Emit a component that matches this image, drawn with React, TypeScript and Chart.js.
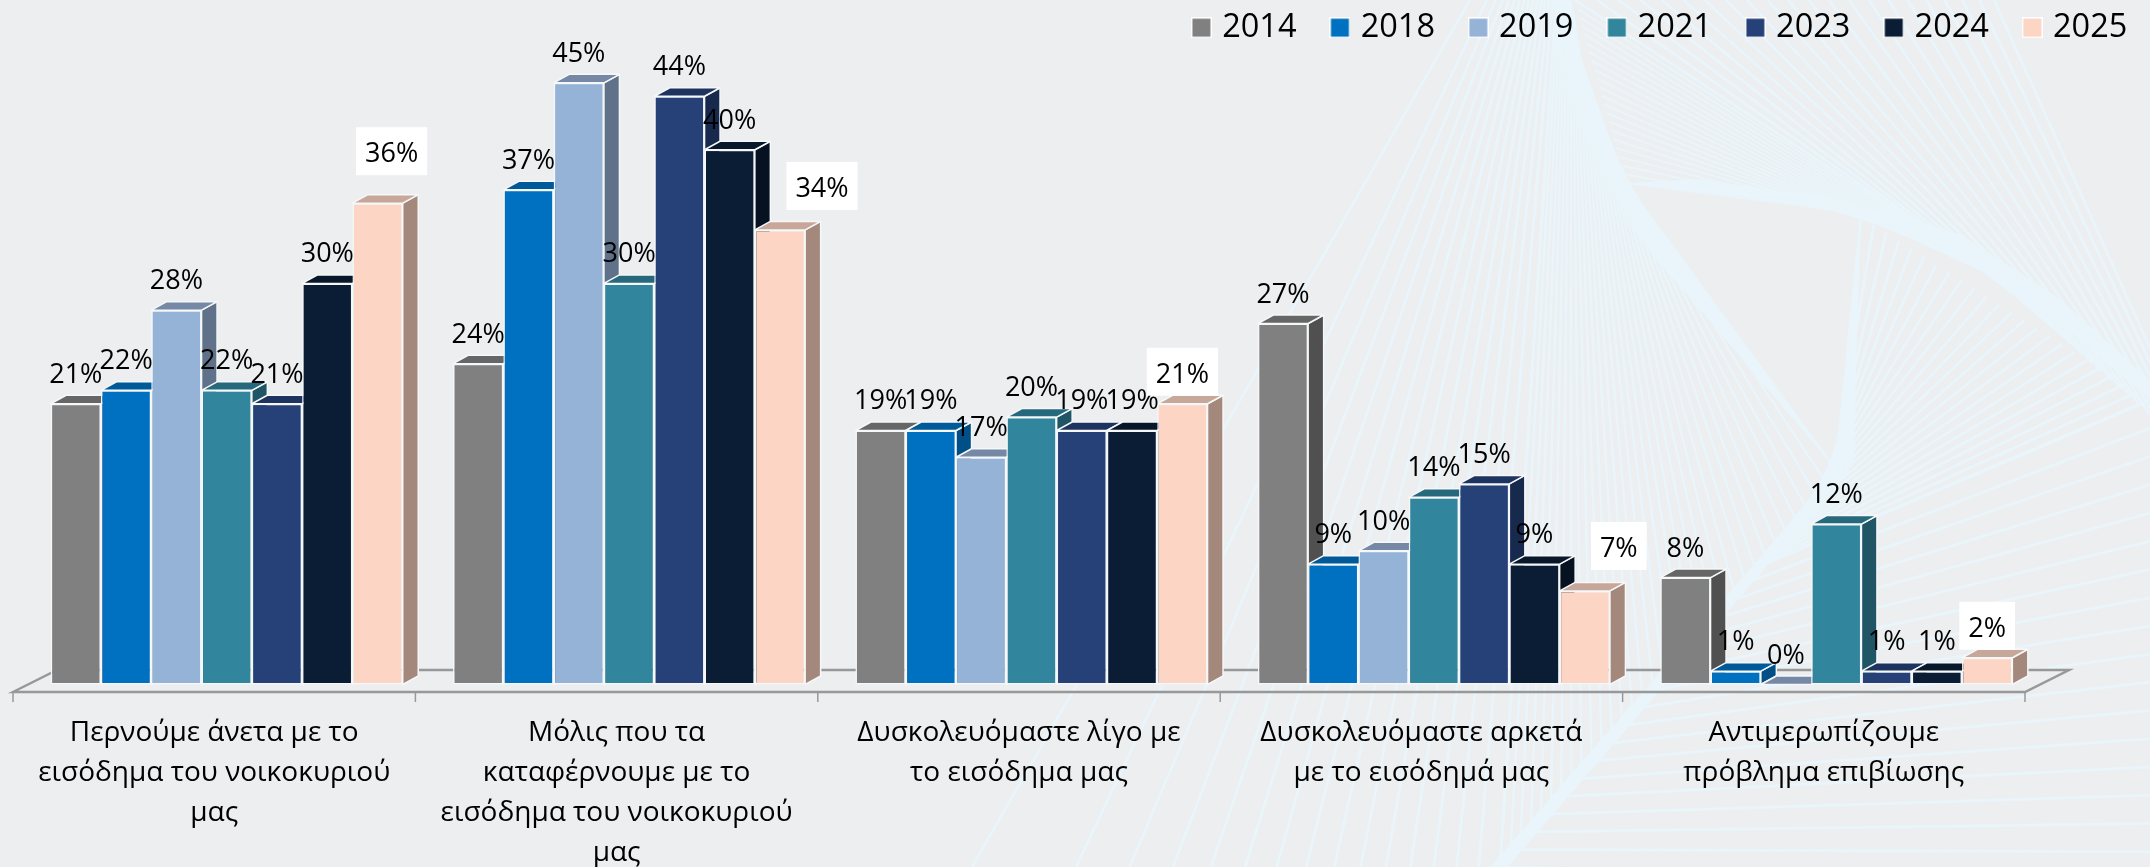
import { useEffect, useRef } from "react";
import { Chart, registerables } from "chart.js";

Chart.register(...registerables);

const categories = [
  ["Περνούμε άνετα με το", "εισόδημα του νοικοκυριού", "μας"],
  ["Μόλις που τα", "καταφέρνουμε με το", "εισόδημα του νοικοκυριού", "μας"],
  ["Δυσκολευόμαστε λίγο με", "το εισόδημα μας"],
  ["Δυσκολευόμαστε αρκετά", "με το εισόδημά μας"],
  ["Αντιμερωπίζουμε", "πρόβλημα επιβίωσης"],
];
const years = ["2014", "2018", "2019", "2021", "2023", "2024", "2025"];
const v2014 = [21, 24, 19, 27, 8];
const v2018 = [22, 37, 19, 9, 1];
const v2019 = [28, 45, 17, 10, 0];
const v2021 = [22, 30, 20, 14, 12];
const v2023 = [21, 44, 19, 15, 1];
const v2024 = [30, 40, 19, 9, 1];
const v2025 = [36, 34, 21, 7, 2];
const seriesValues = [v2014, v2018, v2019, v2021, v2023, v2024, v2025];
const fronts = ["#808080", "#0070C0", "#95B3D7", "#31859C", "#264178", "#0A1D35", "#FCD5C5"];
const sides = ["#505050", "#004F86", "#5F7289", "#1F5564", "#172A4D", "#061222", "#A5887C"];
const tops = ["#666666", "#005A9A", "#7589A6", "#27697C", "#1E3460", "#08172A", "#C7A799"];
const boxedLabelLift = [20, 12, 0, 13, 0];
const boxedLabelShift = [14, 42, 0, 34, 0];

const FONT = '"Open Sans", "Noto Sans", sans-serif';
const BG = "#ECEEF0";
const RAY = "#E9F5FA";
const DEPTH_X = 15.5;
const DEPTH_Y = 8.5;
const EDGE = "#F5F7F8";

type P = [number, number];
const mix = (a: P, b: P, t: number): P => [a[0] + (b[0] - a[0]) * t, a[1] + (b[1] - a[1]) * t];

function fan(ctx: CanvasRenderingContext2D, a1: P, a2: P, b1: P, b2: P, n: number, power = 1) {
  for (let i = 0; i < n; i++) {
    const t = Math.pow(i / (n - 1), power);
    const a = mix(a1, a2, t);
    const b = mix(b1, b2, t);
    ctx.beginPath();
    ctx.moveTo(a[0], a[1]);
    ctx.lineTo(b[0], b[1]);
    ctx.stroke();
  }
}

function poly(ctx: CanvasRenderingContext2D, pts: P[]) {
  ctx.beginPath();
  pts.forEach((p, i) => (i ? ctx.lineTo(p[0], p[1]) : ctx.moveTo(p[0], p[1])));
  ctx.closePath();
  ctx.fill();
}

const backgroundPlugin = {
  id: "pageBackground",
  beforeDraw(chart: any) {
    const { ctx, width, height } = chart;
    ctx.save();
    ctx.fillStyle = BG;
    ctx.fillRect(0, 0, width, height);
    ctx.strokeStyle = RAY;
    ctx.fillStyle = RAY;
    ctx.lineWidth = 3;
    fan(ctx, [1470, 0], [1556, 0], [972, 867], [1500, 867], 16, 0.6);
    ctx.lineWidth = 2.5;
    fan(ctx, [1556, 0], [1626, 183], [1500, 867], [1836, 470], 34);
    ctx.lineWidth = 3;
    fan(ctx, [1994, 0], [1575, 0], [2200, 460], [2000, 280], 22, 1.1);
    ctx.lineWidth = 2;
    fan(ctx, [1575, 0], [1626, 183], [2000, 280], [1861, 213], 22);
    ctx.lineWidth = 3;
    fan(ctx, [1836, 470], [1750, 570], [1861, 217], [2150, 400], 24);
    fan(ctx, [1750, 570], [1490, 867], [2150, 400], [2150, 880], 18);
    poly(ctx, [[1552, 0], [1572, 0], [1582, 60], [1626, 183], [1836, 470], [1730, 345], [1640, 240], [1592, 150]]);
    poly(ctx, [[1626, 183], [1770, 200], [1861, 213], [1960, 255], [2050, 315], [2150, 400], [2150, 380], [2060, 299], [1960, 234], [1830, 199], [1700, 179]]);
    poly(ctx, [[1861, 213], [1853, 467], [1836, 470]]);
    poly(ctx, [[1836, 470], [1490, 867], [1508, 867], [1850, 470]]);
    ctx.restore();
  },
};

function drawFloor(chart: any) {
  const { ctx, scales } = chart;
  const x = scales.x;
  const y0 = scales.y.getPixelForValue(0);
  const step = x.width / categories.length;
  const left = x.left - 12.5;
  const right = left + step * categories.length;
  const front = y0 + 7.5;
  const back = y0 - 14.5;
  ctx.save();
  ctx.strokeStyle = "#989898";
  ctx.lineWidth = 2.5;
  ctx.beginPath();
  ctx.moveTo(left, front);
  ctx.lineTo(left + 44, back);
  ctx.lineTo(right + 44, back);
  ctx.lineTo(right, front);
  ctx.closePath();
  ctx.stroke();
  ctx.lineWidth = 1.5;
  for (let i = 0; i <= categories.length; i++) {
    const tx = left + step * i;
    ctx.beginPath();
    ctx.moveTo(tx, front);
    ctx.lineTo(tx, front + 10);
    ctx.stroke();
  }
  ctx.restore();
}

function drawDepthFaces(chart: any, i: number) {
  const { ctx } = chart;
  const meta = chart.getDatasetMeta(i);
  ctx.save();
  ctx.strokeStyle = EDGE;
  ctx.lineWidth = 1.5;
  ctx.lineJoin = "round";
  meta.data.forEach((el: any) => {
    const l = el.x - el.width / 2;
    const r = el.x + el.width / 2;
    const t = el.y;
    const b = el.base;
    if (b - t > 0.5) {
      ctx.fillStyle = sides[i];
      ctx.beginPath();
      ctx.moveTo(r, t);
      ctx.lineTo(r + DEPTH_X, t - DEPTH_Y);
      ctx.lineTo(r + DEPTH_X, b - DEPTH_Y);
      ctx.lineTo(r, b);
      ctx.closePath();
      ctx.fill();
      ctx.stroke();
    }
    ctx.fillStyle = tops[i];
    ctx.beginPath();
    ctx.moveTo(l, t);
    ctx.lineTo(l + DEPTH_X, t - DEPTH_Y);
    ctx.lineTo(r + DEPTH_X, t - DEPTH_Y);
    ctx.lineTo(r, t);
    ctx.closePath();
    ctx.fill();
    ctx.stroke();
  });
  ctx.restore();
}

function drawValueLabels(chart: any) {
  const { ctx } = chart;
  ctx.save();
  ctx.font = `27px ${FONT}`;
  ctx.textAlign = "center";
  ctx.textBaseline = "alphabetic";
  seriesValues.forEach((vals, i) => {
    const meta = chart.getDatasetMeta(i);
    const boxed = i === seriesValues.length - 1;
    vals.forEach((v, k) => {
      const el = meta.data[k];
      const text = `${v}%`;
      const base = el.y - 21 - (boxed ? boxedLabelLift[k] : 0);
      const cx = el.x + (boxed ? boxedLabelShift[k] : 0);
      if (boxed) {
        const w = ctx.measureText(text).width + 18;
        ctx.fillStyle = "#FFFFFF";
        ctx.fillRect(cx - w / 2, base - 35, w, 48);
      }
      ctx.fillStyle = "#000000";
      ctx.fillText(text, cx, base);
    });
  });
  ctx.restore();
}

const bars3dPlugin = {
  id: "bars3d",
  afterLayout(chart: any) {
    chart.legend.left = 1158;
    chart.legend.right = 2400;
    chart.legend.top = -27.5;
  },
  beforeDatasetsDraw(chart: any) {
    drawFloor(chart);
    // Paint left to right so each bar's front hides its left neighbour's side face.
    years.forEach((_, i) => {
      drawDepthFaces(chart, i);
      chart.getDatasetMeta(i).controller.draw();
    });
    drawValueLabels(chart);
    return false;
  },
};

function swatch(color: string) {
  const c = document.createElement("canvas");
  c.width = 21;
  c.height = 21;
  const g = c.getContext("2d")!;
  g.fillStyle = "#FFFFFF";
  g.fillRect(0, 0, 21, 21);
  g.fillStyle = color;
  g.fillRect(1.5, 1.5, 18, 18);
  return c;
}

export default function App() {
  const ref = useRef<HTMLCanvasElement>(null);
  useEffect(() => {
    document.body.style.margin = "0";
    const chart = new Chart(ref.current!, {
      type: "bar",
      data: {
        labels: categories as any,
        datasets: years.map((label, i) => ({
          label,
          data: seriesValues[i],
          backgroundColor: fronts[i],
          borderColor: EDGE,
          borderWidth: 1.5,
          borderSkipped: false,
          categoryPercentage: 0.875,
          barPercentage: 1,
        })),
      },
      options: {
        responsive: false,
        animation: false,
        layout: { padding: { left: 25.5, right: 112.5, top: 0, bottom: 0 } },
        plugins: {
          tooltip: { enabled: false },
          legend: {
            position: "top",
            align: "start",
            labels: {
              usePointStyle: true,
              pointStyleWidth: 9,
              padding: 38.9,
              color: "#000000",
              font: { family: FONT, size: 32.5 },
              generateLabels: () =>
                years.map((y, i) => ({
                  text: y,
                  datasetIndex: i,
                  pointStyle: swatch(fronts[i]) as any,
                  fillStyle: fronts[i],
                  strokeStyle: EDGE,
                  lineWidth: 0,
                  hidden: false,
                })),
            },
          },
        },
        scales: {
          x: {
            border: { display: false },
            grid: { display: false },
            afterFit: (s: any) => {
              s.height = 182.5;
            },
            ticks: {
              autoSkip: false,
              maxRotation: 0,
              minRotation: 0,
              labelOffset: -12.5,
              padding: 21,
              color: "#000000",
              font: { family: FONT, size: 28, lineHeight: 40 / 28 },
            },
          },
          y: { display: false, min: 0, max: 45.11, grid: { display: false } },
        },
      },
      plugins: [backgroundPlugin, bars3dPlugin],
    } as any);
    return () => chart.destroy();
  }, []);
  return <canvas ref={ref} width={2150} height={867} style={{ display: "block" }} />;
}
